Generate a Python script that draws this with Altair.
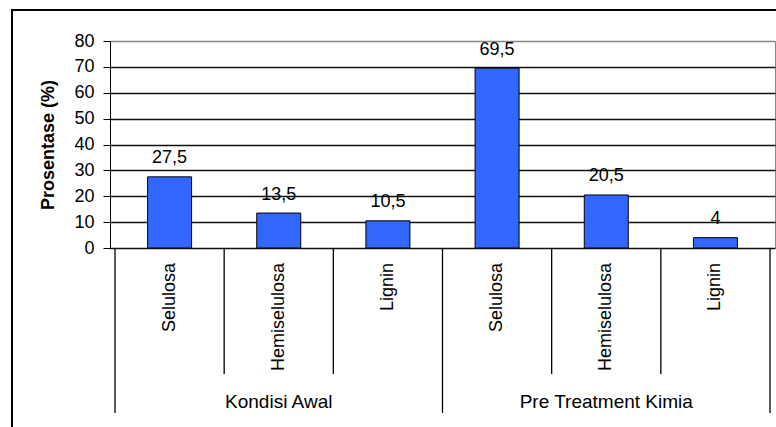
import altair as alt
import pandas as pd

# ---- data ----
components = ["Selulosa", "Hemiselulosa", "Lignin", "Selulosa", "Hemiselulosa", "Lignin"]
groups = ["Kondisi Awal", "Kondisi Awal", "Kondisi Awal",
          "Pre Treatment Kimia", "Pre Treatment Kimia", "Pre Treatment Kimia"]
values = [27.5, 13.5, 10.5, 69.5, 20.5, 4]
value_labels = ["27,5", "13,5", "10,5", "69,5", "20,5", "4"]
group_names = ["Kondisi Awal", "Pre Treatment Kimia"]
y_ticks = [0, 10, 20, 30, 40, 50, 60, 70, 80]

FONT = "Liberation Sans"
W, H = 665, 207

n = len(components)
df = pd.DataFrame({
    "comp": components,
    "group": groups,
    "value": values,
    "label": value_labels,
    "pos": [i + 0.5 for i in range(n)],
})

# category boundaries (group boundaries are longer)
group_sizes = [groups.count(g) for g in group_names]
major = [0]
for s in group_sizes:
    major.append(major[-1] + s)
minor = [b for b in range(n + 1) if b not in major]
major_df = pd.DataFrame({"b": major})
minor_df = pd.DataFrame({"b": minor})
centers = [(major[i] + major[i + 1]) / 2 for i in range(len(group_names))]
gdf = pd.DataFrame({"group": group_names, "center": centers})
one = pd.DataFrame({"k": [0]})

xs = alt.Scale(domain=[0, n], nice=False, zero=False)
ys = alt.Scale(domain=[0, 80], nice=False)

yaxis = alt.Axis(
    values=y_ticks, tickCount=len(y_ticks), labelOverlap=False, format="d", title="Prosentase (%)",
    labelFont=FONT, labelFontSize=18, labelColor="black", labelPadding=9,
    tickSize=7, tickColor="black", domainColor="black",
    grid=True, gridWidth=1.3,
    gridColor={"condition": {"test": "datum.value >= 80", "value": "#888888"}, "value": "#111111"},
    titleFont=FONT, titleFontSize=18, titleFontWeight="bold", titleColor="black",
    titleX=-62, titleY=H / 2, titleAngle=270, titleAlign="center", titleBaseline="middle",
)

bars = alt.Chart(df).mark_bar(size=44, color="#3366FF", stroke="black", strokeWidth=1).encode(
    x=alt.X("pos:Q", scale=xs, axis=None),
    y=alt.Y("value:Q", scale=ys, axis=yaxis),
)

vals = alt.Chart(df).mark_text(font=FONT, fontSize=18, color="black", baseline="alphabetic", dy=-13.5).encode(
    x=alt.X("pos:Q", scale=xs, axis=None),
    y=alt.Y("value:Q", scale=ys, axis=yaxis),
    text="label:N",
)

minor_rules = alt.Chart(minor_df).mark_rule(color="black", strokeWidth=1.3).encode(
    x=alt.X("b:Q", scale=xs, axis=None),
    y=alt.value(H),
    y2=alt.value(H + 126),
)
major_rules = alt.Chart(major_df).mark_rule(color="black", strokeWidth=1.3).encode(
    x=alt.X("b:Q", scale=xs, axis=None),
    y=alt.value(H),
    y2=alt.value(H + 165),
)

cat_text = alt.Chart(df).mark_text(font=FONT, fontSize=18, color="black", angle=270,
                                    align="right", baseline="middle").encode(
    x=alt.X("pos:Q", scale=xs, axis=None),
    y=alt.value(H + 15),
    text="comp:N",
)

grp_text = alt.Chart(gdf).mark_text(font=FONT, fontSize=19, color="black",
                                     align="center", baseline="middle").encode(
    x=alt.X("center:Q", scale=xs, axis=None),
    y=alt.value(H + 154),
    text="group:N",
)

frame_left = alt.Chart(one).mark_rule(color="black", strokeWidth=2).encode(
    x=alt.value(-98), y=alt.value(-31), y2=alt.value(400),
)
frame_top = alt.Chart(one).mark_rule(color="black", strokeWidth=2).encode(
    x=alt.value(-99), x2=alt.value(W + 10), y=alt.value(-31),
)

chart = alt.layer(
    bars, vals, minor_rules, major_rules, cat_text, grp_text, frame_left, frame_top
).properties(
    width=W, height=H,
    autosize=alt.AutoSizeParams(type="none"),
    padding={"left": 110, "top": 41, "right": 1, "bottom": 179},
    background="white",
).configure_view(stroke="#888888", strokeWidth=1)

chart.save("out.html", embed_options={"renderer": "svg", "actions": False})
